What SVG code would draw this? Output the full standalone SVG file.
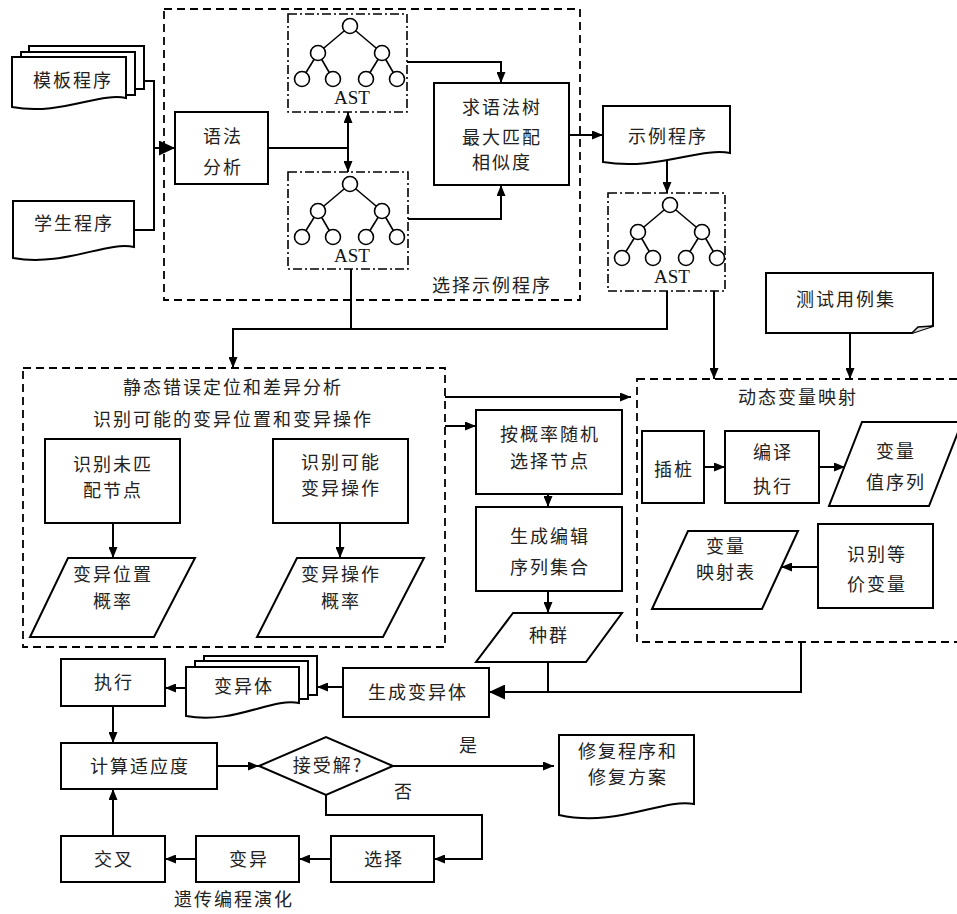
<svg xmlns="http://www.w3.org/2000/svg" width="957" height="914" viewBox="0 0 957 914">
<style>
.n{fill:#fff;stroke:#000;stroke-width:2}
.dash{fill:none;stroke:#000;stroke-width:1.8;stroke-dasharray:8 5}
.dd{fill:none;stroke:#000;stroke-width:1.6;stroke-dasharray:9 3 2 3}
.t{font-family:"Noto Sans CJK SC","Noto Sans",sans-serif;font-size:18px;fill:#222;text-anchor:middle;letter-spacing:2px}
.c{fill:none;stroke:#000;stroke-width:2}
</style>
<defs>
<marker id="a" markerUnits="userSpaceOnUse" markerWidth="11" markerHeight="9" refX="11" refY="4.5" orient="auto"><path d="M0,0 L11,4.5 L0,9 Z" fill="#000"/></marker>
<marker id="A" markerUnits="userSpaceOnUse" markerWidth="16" markerHeight="15" refX="16" refY="7.5" orient="auto"><path d="M0,0 L16,7.5 L0,15 Z" fill="#000"/></marker>
<g id="tree">
<g stroke="#000" stroke-width="1.6">
<line x1="62" y1="12" x2="30" y2="39"/><line x1="62" y1="12" x2="94" y2="39"/>
<line x1="30" y1="39" x2="14" y2="65"/><line x1="30" y1="39" x2="45" y2="65"/>
<line x1="94" y1="39" x2="78" y2="65"/><line x1="94" y1="39" x2="109" y2="65"/>
</g>
<g fill="#fff" stroke="#000" stroke-width="1.6">
<circle cx="62" cy="12" r="7.5"/><circle cx="30" cy="39" r="7.5"/><circle cx="94" cy="39" r="7.5"/>
<circle cx="14" cy="65" r="7.5"/><circle cx="45" cy="65" r="7.5"/><circle cx="78" cy="65" r="7.5"/><circle cx="109" cy="65" r="7.5"/>
</g>
<text x="64" y="90" font-family="Liberation Serif, serif" font-size="19" fill="#111" text-anchor="middle">AST</text>
</g>
</defs>
<rect width="957" height="914" fill="#fff"/>

<!-- containers -->
<g id="select-example">
<rect class="dash" x="164" y="9" width="416" height="291"/>
<text class="t" x="492" y="292">选择示例程序</text>
</g>
<g id="static-analysis">
<rect class="dash" x="23" y="368" width="422" height="279"/>
<text class="t" x="233" y="394">静态错误定位和差异分析</text>
<text class="t" x="233" y="426">识别可能的变异位置和变异操作</text>
</g>
<g id="dynamic-mapping">
<rect class="dash" x="637" y="379" width="330" height="263"/>
<text class="t" x="798" y="404">动态变量映射</text>
</g>

<!-- nodes -->
<g id="template-program">
<rect class="n" x="29" y="46" width="115" height="43"/>
<rect class="n" x="21" y="52" width="114" height="43"/>
<path class="n" d="M12,57 H126 V98 C100,92 60,116 12,107 Z"/>
<text class="t" x="73" y="87">模板程序</text>
</g>
<g id="student-program">
<path class="n" d="M13,201 H134 V247 C106,241 64,267 13,258 Z"/>
<text class="t" x="74" y="230">学生程序</text>
</g>
<g id="parse">
<rect class="n" x="175" y="112" width="93" height="72"/>
<text class="t" x="223" y="143">语法</text>
<text class="t" x="223" y="174">分析</text>
</g>
<g id="ast1">
<rect class="dd" x="288" y="14" width="119" height="98"/>
<use href="#tree" x="288" y="14"/>
</g>
<g id="ast2">
<rect class="dd" x="288" y="172" width="120" height="97"/>
<use href="#tree" x="288" y="172"/>
</g>
<g id="match">
<rect class="n" x="434" y="83" width="135" height="102"/>
<text class="t" x="502" y="114">求语法树</text>
<text class="t" x="502" y="144">最大匹配</text>
<text class="t" x="502" y="169">相似度</text>
</g>
<g id="example-program">
<path class="n" d="M603,106 H730 V153 C701,147 656,171 603,162 Z"/>
<text class="t" x="668" y="143">示例程序</text>
</g>
<g id="ast3">
<rect class="dd" x="608" y="193" width="117" height="98"/>
<use href="#tree" x="608" y="193"/>
</g>
<g id="test-cases">
<path class="n" d="M766,273 H933 V326 L912,333 H766 Z"/>
<path d="M912,333 L918,327 L933,326" fill="#ddd" stroke="#000" stroke-width="1.5"/>
<text class="t" x="846" y="306">测试用例集</text>
</g>
<g id="unmatched">
<rect class="n" x="45" y="439" width="135" height="84"/>
<text class="t" x="113" y="471">识别未匹</text>
<text class="t" x="113" y="497">配节点</text>
</g>
<g id="possible-ops">
<rect class="n" x="273" y="439" width="135" height="84"/>
<text class="t" x="341" y="469">识别可能</text>
<text class="t" x="341" y="495">变异操作</text>
</g>
<g id="pos-prob">
<polygon class="n" points="68,558 195,558 154,637 30,637"/>
<text class="t" x="113" y="581">变异位置</text>
<text class="t" x="113" y="608">概率</text>
</g>
<g id="op-prob">
<polygon class="n" points="297,558 424,558 383,637 257,637"/>
<text class="t" x="341" y="581">变异操作</text>
<text class="t" x="341" y="608">概率</text>
</g>
<g id="select-node">
<rect class="n" x="476" y="410" width="146" height="84"/>
<text class="t" x="550" y="441">按概率随机</text>
<text class="t" x="550" y="468">选择节点</text>
</g>
<g id="edit-seq">
<rect class="n" x="476" y="507" width="146" height="84"/>
<text class="t" x="550" y="543">生成编辑</text>
<text class="t" x="550" y="574">序列集合</text>
</g>
<g id="population">
<polygon class="n" points="513,613 622,613 586,662 476,662"/>
<text class="t" x="549" y="642">种群</text>
</g>
<g id="instrument">
<rect class="n" x="642" y="431" width="62" height="72"/>
<text class="t" x="674" y="476">插桩</text>
</g>
<g id="compile-run">
<rect class="n" x="725" y="431" width="94" height="72"/>
<text class="t" x="773" y="459">编译</text>
<text class="t" x="773" y="493">执行</text>
</g>
<g id="value-seq">
<polygon class="n" points="862,422 962,422 929,506 829,506"/>
<text class="t" x="896" y="458">变量</text>
<text class="t" x="896" y="489">值序列</text>
</g>
<g id="equiv-var">
<rect class="n" x="818" y="524" width="115" height="84"/>
<text class="t" x="877" y="561">识别等</text>
<text class="t" x="877" y="591">价变量</text>
</g>
<g id="map-table">
<polygon class="n" points="688,531 798,531 762,609 652,609"/>
<text class="t" x="726" y="553">变量</text>
<text class="t" x="726" y="579">映射表</text>
</g>
<g id="gen-mutant">
<rect class="n" x="343" y="668" width="146" height="49"/>
<text class="t" x="418" y="699">生成变异体</text>
</g>
<g id="mutants">
<rect class="n" x="204" y="656" width="113" height="39"/>
<rect class="n" x="195" y="661" width="113" height="38"/>
<path class="n" d="M186,667 H299 V703 C273,697 233,725 186,716 Z"/>
<text class="t" x="244" y="693">变异体</text>
</g>
<g id="execute">
<rect class="n" x="61" y="659" width="104" height="47"/>
<text class="t" x="114" y="689">执行</text>
</g>
<g id="fitness">
<rect class="n" x="61" y="743" width="156" height="46"/>
<text class="t" x="140" y="773">计算适应度</text>
</g>
<g id="accept">
<polygon class="n" points="259,766 326,737 393,766 326,795"/>
<text class="t" x="328" y="772">接受解?</text>
</g>
<g id="repair">
<path class="n" d="M559,735 H694 V804 C663,798 616,828 559,815 Z"/>
<text class="t" x="628" y="758">修复程序和</text>
<text class="t" x="628" y="784">修复方案</text>
</g>
<g id="crossover">
<rect class="n" x="61" y="836" width="104" height="46"/>
<text class="t" x="114" y="866">交叉</text>
</g>
<g id="mutation">
<rect class="n" x="196" y="836" width="103" height="46"/>
<text class="t" x="249" y="866">变异</text>
</g>
<g id="selection">
<rect class="n" x="331" y="836" width="103" height="46"/>
<text class="t" x="384" y="866">选择</text>
</g>
<g id="labels">
<text class="t" x="469" y="752">是</text>
<text class="t" x="404" y="798">否</text>
<text class="t" x="234" y="906">遗传编程演化</text>
</g>

<!-- connectors -->
<g id="connectors" class="c">
<path d="M144,81 H154 V148 H175" marker-end="url(#A)"/>
<path d="M134,230 H154 V148"/>
<path d="M268,148 H348"/>
<path d="M348,148 V112" marker-end="url(#a)"/>
<path d="M348,148 V172" marker-end="url(#a)"/>
<path d="M407,62 H501 V83" marker-end="url(#a)"/>
<path d="M408,219 H501 V185" marker-end="url(#a)"/>
<path d="M569,135 H603" marker-end="url(#a)"/>
<path d="M667,160 V193" marker-end="url(#a)"/>
<path d="M351,269 V329 H233 V368" marker-end="url(#a)"/>
<path d="M667,291 V329 H351"/>
<path d="M714,291 V379" marker-end="url(#a)"/>
<path d="M850,333 V379" marker-end="url(#a)"/>
<path d="M445,397 H631" marker-end="url(#a)"/>
<path d="M445,426 H476" marker-end="url(#a)"/>
<path d="M548,494 V507" marker-end="url(#a)"/>
<path d="M548,591 V613" marker-end="url(#a)"/>
<path d="M548,662 V692"/>
<path d="M801,642 V692 H489" marker-end="url(#A)"/>
<path d="M113,523 V558" marker-end="url(#a)"/>
<path d="M340,523 V558" marker-end="url(#a)"/>
<path d="M704,467 H725" marker-end="url(#a)"/>
<path d="M819,467 H845" marker-end="url(#a)"/>
<path d="M818,567 H781" marker-end="url(#a)"/>
<path d="M343,687 H317" marker-end="url(#a)"/>
<path d="M186,688 H165" marker-end="url(#a)"/>
<path d="M113,706 V743" marker-end="url(#a)"/>
<path d="M217,766 H259" marker-end="url(#a)"/>
<path d="M393,766 H554" marker-end="url(#a)"/>
<path d="M326,795 V815 H482 V859 H434" marker-end="url(#a)"/>
<path d="M331,859 H299" marker-end="url(#a)"/>
<path d="M196,859 H165" marker-end="url(#a)"/>
<path d="M113,836 V789" marker-end="url(#a)"/>
</g>
</svg>
